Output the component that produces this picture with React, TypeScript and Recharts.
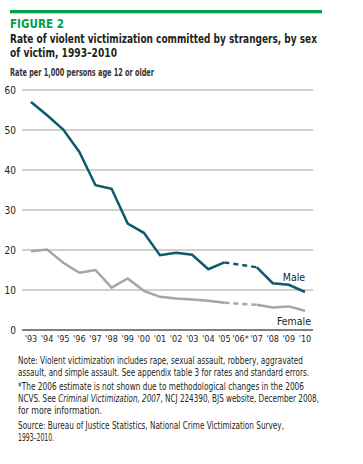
import React from 'react';
import { LineChart, Line, XAxis, YAxis, CartesianGrid } from 'recharts';

const years = ["'93", "'94", "'95", "'96", "'97", "'98", "'99", "'00", "'01", "'02", "'03", "'04", "'05", "'06*", "'07", "'08", "'09", "'10"];
const male = [57, 53.7, 50.1, 44.5, 36.2, 35.3, 26.6, 24.3, 18.7, 19.3, 18.8, 15.2, 16.9, null, 15.7, 11.7, 11.3, 9.5];
const female = [19.7, 20.1, 16.8, 14.3, 15.0, 10.6, 12.9, 9.8, 8.3, 7.9, 7.6, 7.3, 6.8, null, 6.3, 5.6, 5.9, 4.8];
const yTicks = [0, 10, 20, 30, 40, 50, 60];

const MALE_COLOR = '#0d5b6a';
const FEMALE_COLOR = '#a3a5a8';
const GREEN = '#00a04b';
const TEXT = '#231f20';
const COND = '"DejaVu Sans Condensed", "Liberation Sans Narrow", sans-serif';

// bridge across the missing 2006 estimate, drawn dashed
const gapIdx = years.indexOf("'06*");
const bridge = (arr: (number | null)[]) =>
  arr.map((v, i) => (i === gapIdx - 1 || i === gapIdx + 1 ? v : null));

const data = years.map((year, i) => ({
  year,
  male: male[i],
  female: female[i],
  maleGap: bridge(male)[i],
  femaleGap: bridge(female)[i],
}));

const endLabel = (text: string, dy: number) => (props: any) => {
  const { x, y, index } = props;
  if (index !== years.length - 1) return null;
  return (
    <text
      x={x - 11}
      y={y + dy}
      textAnchor="middle"
      dominantBaseline="central"
      fontFamily={COND}
      fontSize={10.5}
      fill={TEXT}
    >
      {text}
    </text>
  );
};

// a line of text squeezed to the width it has in the reference
const T: React.FC<{ x: number; y: number; w: number; size: number; bold?: boolean; color?: string; children: React.ReactNode }> = ({ x, y, w, size, bold, color, children }) => (
  <text
    x={x}
    y={y}
    textLength={w}
    lengthAdjust="spacingAndGlyphs"
    fontFamily={COND}
    fontSize={size}
    fontWeight={bold ? 'bold' : 'normal'}
    fill={color || TEXT}
  >
    {children}
  </text>
);

const App: React.FC = () => {
  return (
    <div style={{ position: 'absolute', left: 0, top: 0, width: 363, height: 464, background: '#fff' }}>
      <div style={{ position: 'absolute', left: 0, top: 0 }}>
        <LineChart width={363} height={352} data={data} margin={{ top: 90, right: 50, bottom: 0, left: 0 }}>
          <CartesianGrid vertical={false} stroke="#a0a0a0" strokeWidth={1} />
          <XAxis
            dataKey="year"
            interval={0}
            height={22}
            tickLine={false}
            tickSize={0}
            tickMargin={6}
            padding={{ left: 9, right: 8 }}
            axisLine={{ stroke: '#333', strokeWidth: 1.2 }}
            tick={{ fontFamily: COND, fontSize: 9, fill: TEXT }}
          />
          <YAxis
            domain={[0, 60]}
            ticks={yTicks}
            width={22}
            axisLine={false}
            tickLine={false}
            tickSize={0}
            tickMargin={6}
            tick={{ fontFamily: COND, fontSize: 10, fill: TEXT }}
          />
          <Line dataKey="femaleGap" stroke={FEMALE_COLOR} strokeWidth={2.5} strokeDasharray="5 4" dot={false} connectNulls isAnimationActive={false} />
          <Line dataKey="maleGap" stroke={MALE_COLOR} strokeWidth={2.5} strokeDasharray="5 4" dot={false} connectNulls isAnimationActive={false} />
          <Line dataKey="female" stroke={FEMALE_COLOR} strokeWidth={2.5} dot={false} isAnimationActive={false} label={endLabel('Female', 10)} />
          <Line dataKey="male" stroke={MALE_COLOR} strokeWidth={2.5} dot={false} isAnimationActive={false} label={endLabel('Male', -15)} />
        </LineChart>
      </div>

      <svg width={363} height={464} style={{ position: 'absolute', left: 0, top: 0, pointerEvents: 'none' }}>
        <rect x={10} y={10} width={312} height={3.3} fill={GREEN} />
        <T x={10} y={28.3} w={54} size={13} bold color={GREEN}>FIGURE 2</T>
        <T x={10} y={43} w={307} size={13} bold>Rate of violent victimization committed by strangers, by sex</T>
        <T x={10} y={57} w={107} size={13} bold>of victim, 1993–2010</T>
        <T x={10} y={76} w={144} size={10} bold color="#333">Rate per 1,000 persons age 12 or older</T>

        <T x={18} y={364.3} w={285} size={10}>Note: Violent victimization includes rape, sexual assault, robbery, aggravated</T>
        <T x={18} y={376.3} w={291} size={10}>assault, and simple assault. See appendix table 3 for rates and standard errors.</T>
        <T x={18} y={390.3} w={286} size={10}>*The 2006 estimate is not shown due to methodological changes in the 2006</T>
        <T x={18} y={402.3} w={301} size={10}>
          NCVS. See <tspan fontStyle="italic">Criminal Victimization, 2007</tspan>, NCJ 224390, BJS website, December 2008,
        </T>
        <T x={18} y={414.3} w={84} size={10}>for more information.</T>
        <T x={18} y={428.6} w={266} size={10}>Source: Bureau of Justice Statistics, National Crime Victimization Survey,</T>
        <T x={18} y={440.6} w={36} size={10}>1993–2010.</T>
      </svg>
    </div>
  );
};

export default App;
